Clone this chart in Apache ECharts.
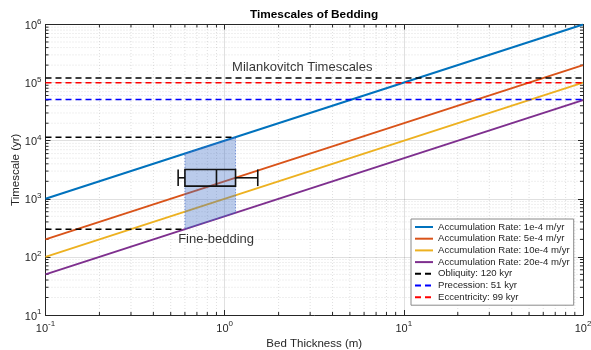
<!DOCTYPE html>
<html><head><meta charset="utf-8">
<script src="https://cdn.jsdelivr.net/npm/echarts@6/dist/echarts.min.js"></script>
<style>html,body{margin:0;padding:0;background:#fff}#c{width:591px;height:350px}</style>
</head><body><div id="c"></div>
<script>
// ---- data ----
const xRange = [0.1, 100];
const yRange = [10, 1e6];
const xTickExps = [-1, 0, 1, 2];
const yTickExps = [1, 2, 3, 4, 5, 6];
const rateNames = ['Accumulation Rate: 1e-4 m/yr', 'Accumulation Rate: 5e-4 m/yr', 'Accumulation Rate: 10e-4 m/yr', 'Accumulation Rate: 20e-4 m/yr'];
const lineX = [0.1, 100];
const rate1 = [1000, 1e6];
const rate5 = [200, 2e5];
const rate10 = [100, 1e5];
const rate20 = [50, 5e4];
const cycleNames = ['Obliquity: 120 kyr', 'Precession: 51 kyr', 'Eccentricity: 99 kyr'];
const cycleValues = [120000, 51000, 99000];
const fineX = [0.6, 1.15];
const fineTop = [6000, 11500];
const fineBottom = [300, 575];
const boxStats = [0.55, 0.6, 0.9, 1.15, 1.53]; // min, q1, median, q3, max
const boxY = 2300;
const milankLabel = ['Milankovitch Timescales', 1.1, 180000];
const fineLabel = ['Fine-bedding', 0.55, 200];

// ---- styling ----
const FONT = '"Liberation Sans", Arial, Helvetica, sans-serif';
const AXC = '#262626';
const lineColors = ['#0072BD', '#D95319', '#EDB120', '#7E2F8E'];
const cycleColors = ['#000000', '#0000FF', '#FF0000'];

function expLabel(exps) {
  return function (v) {
    const e = Math.round(Math.log10(v));
    if (exps.indexOf(e) < 0) return '';
    return '{b|10}{s|' + e + '}';
  };
}
const richLbl = {
  b: { fontSize: 11, fontFamily: FONT, color: AXC, verticalAlign: 'bottom', lineHeight: 14 },
  s: { fontSize: 8, fontFamily: FONT, color: AXC, verticalAlign: 'top', lineHeight: 8 }
};

const xMinor = [], yMinor = [];
for (let k = Math.log10(xRange[0]); k < Math.log10(xRange[1]) - 1e-9; k++) for (let m = 2; m <= 9; m++) xMinor.push(m * Math.pow(10, Math.round(k)));
for (let k = Math.log10(yRange[0]); k < Math.log10(yRange[1]) - 1e-9; k++) for (let m = 2; m <= 9; m++) yMinor.push(m * Math.pow(10, Math.round(k)));

function gridRender(isX) {
  return function (params, api) {
    const v = api.value(isX ? 0 : 1);
    let p1, p2;
    if (isX) { p1 = api.coord([v, yRange[0]]); p2 = api.coord([v, yRange[1]]); }
    else { p1 = api.coord([xRange[0], v]); p2 = api.coord([xRange[1], v]); }
    const dotted = { stroke: 'rgba(0,0,0,0.13)', lineWidth: 1, lineDash: [1, 2] };
    const tick = { stroke: AXC, lineWidth: 1 };
    const t = 3;
    const children = [{ type: 'line', shape: { x1: p1[0], y1: p1[1], x2: p2[0], y2: p2[1] }, style: dotted }];
    if (isX) {
      children.push({ type: 'line', shape: { x1: p1[0], y1: p1[1], x2: p1[0], y2: p1[1] - t }, style: tick });
      children.push({ type: 'line', shape: { x1: p2[0], y1: p2[1], x2: p2[0], y2: p2[1] + t }, style: tick });
    } else {
      children.push({ type: 'line', shape: { x1: p1[0], y1: p1[1], x2: p1[0] + t, y2: p1[1] }, style: tick });
      children.push({ type: 'line', shape: { x1: p2[0], y1: p2[1], x2: p2[0] - t, y2: p2[1] }, style: tick });
    }
    return { type: 'group', children: children };
  };
}

const series = [];
series.push({ type: 'custom', name: 'gx', silent: true, z: 0, renderItem: gridRender(true), data: xMinor.map(v => [v, yRange[0]]) });
series.push({ type: 'custom', name: 'gy', silent: true, z: 0, renderItem: gridRender(false), data: yMinor.map(v => [xRange[0], v]) });

const rateData = [rate1, rate5, rate10, rate20];
rateData.forEach((arr, i) => {
  series.push({
    type: 'line', name: rateNames[i], showSymbol: false, symbol: 'none', z: 3,
    data: lineX.map((x, j) => [x, arr[j]]),
    lineStyle: { color: lineColors[i], width: 2 }, itemStyle: { color: lineColors[i] }
  });
});
cycleValues.forEach((v, i) => {
  series.push({
    type: 'line', name: cycleNames[i], showSymbol: false, symbol: 'none', z: 3,
    data: [[xRange[0], v], [xRange[1], v]],
    lineStyle: { color: cycleColors[i], width: 1.5, type: [6, 4] }, itemStyle: { color: cycleColors[i] }
  });
});
// reference dashed lines for fine-bedding
series.push({ type: 'line', name: 'refTop', showSymbol: false, symbol: 'none', z: 3,
  data: [[xRange[0], fineTop[1]], [fineX[1], fineTop[1]]], lineStyle: { color: '#000', width: 1.5, type: [6, 4] } });
series.push({ type: 'line', name: 'refBot', showSymbol: false, symbol: 'none', z: 3,
  data: [[xRange[0], fineBottom[0]], [fineX[0], fineBottom[0]]], lineStyle: { color: '#000', width: 1.5, type: [6, 4] } });

// shaded fine-bedding region
series.push({
  type: 'custom', name: 'fill', silent: true, z: 4,
  data: [[fineX[0], fineTop[0], fineX[1], fineTop[1], fineBottom[1], fineBottom[0]]],
  encode: { x: [0, 2], y: [1, 3, 4, 5] },
  renderItem: function (params, api) {
    const pts = [
      api.coord([api.value(0), api.value(1)]),
      api.coord([api.value(2), api.value(3)]),
      api.coord([api.value(2), api.value(4)]),
      api.coord([api.value(0), api.value(5)])
    ];
    return { type: 'polygon', shape: { points: pts },
      style: { fill: 'rgba(65,112,200,0.36)', stroke: 'rgba(60,100,200,0.6)', lineWidth: 1, lineDash: [1.5, 1.5] } };
  }
});
// box plot
series.push({
  type: 'custom', name: 'box', silent: true, z: 5,
  data: [boxStats.concat([boxY])],
  encode: { x: [0, 1, 2, 3, 4], y: 5 },
  renderItem: function (params, api) {
    const yc = api.coord([1, api.value(5)])[1];
    const px = [0, 1, 2, 3, 4].map(i => api.coord([api.value(i), api.value(5)])[0]);
    const h = 8.3;
    const st = { stroke: '#111', lineWidth: 1.6, fill: null };
    return { type: 'group', children: [
      { type: 'rect', shape: { x: px[1], y: yc - h, width: px[3] - px[1], height: 2 * h }, style: st },
      { type: 'line', shape: { x1: px[2], y1: yc - h, x2: px[2], y2: yc + h }, style: st },
      { type: 'line', shape: { x1: px[0], y1: yc, x2: px[1], y2: yc }, style: st },
      { type: 'line', shape: { x1: px[3], y1: yc, x2: px[4], y2: yc }, style: st },
      { type: 'line', shape: { x1: px[0], y1: yc - h, x2: px[0], y2: yc + h }, style: st },
      { type: 'line', shape: { x1: px[4], y1: yc - h, x2: px[4], y2: yc + h }, style: st }
    ] };
  }
});
// text annotations
[milankLabel, fineLabel].forEach((lab, i) => {
  series.push({
    type: 'scatter', name: 'lab' + i, symbolSize: 0, silent: true, z: 6,
    data: [[lab[1], lab[2]]],
    label: { show: true, position: 'right', distance: 0, formatter: lab[0], fontSize: 13, fontFamily: FONT, color: '#000' }
  });
});

const axisCommon = {
  type: 'log', logBase: 10,
  axisLine: { show: true, onZero: false, lineStyle: { color: AXC, width: 1 } },
  axisTick: { show: true, inside: true, length: 5, lineStyle: { color: AXC } },
  minorTick: { show: false },
  splitLine: { show: false }
};

const option = {
  animation: false,
  backgroundColor: '#fff',
  title: {
    text: 'Timescales of Bedding', left: 250, top: 9, padding: 0,
    textStyle: { fontSize: 11.8, fontWeight: 'bold', fontFamily: FONT, color: '#000' }
  },
  grid: { left: 45.5, right: 8, top: 24.5, bottom: 35, containLabel: false, outerBoundsMode: 'none' },
  legend: {
    orient: 'vertical', left: 411, top: 219,
    itemWidth: 18, itemHeight: 10, itemGap: 1.7,
    padding: [3, 4, 3, 3],
    backgroundColor: '#fff', borderColor: '#8a8a8a', borderWidth: 1, borderRadius: 0,
    itemStyle: { opacity: 0 },
    textStyle: { fontSize: 9.6, fontFamily: FONT, color: AXC },
    data: rateNames.concat(cycleNames)
  },
  xAxis: [
    Object.assign({}, axisCommon, {
      min: xRange[0], max: xRange[1], position: 'bottom',
      splitLine: { show: true, lineStyle: { color: 'rgba(0,0,0,0.12)', width: 1 } },
      axisLabel: { formatter: expLabel(xTickExps), rich: richLbl, margin: 5 },
      name: 'Bed Thickness (m)', nameLocation: 'middle', nameGap: 23, nameMoveOverlap: false,
      nameTextStyle: { fontSize: 11.5, fontFamily: FONT, color: AXC }
    }),
    Object.assign({}, axisCommon, { min: xRange[0], max: xRange[1], position: 'top', axisLabel: { show: false } })
  ],
  yAxis: [
    Object.assign({}, axisCommon, {
      min: yRange[0], max: yRange[1], position: 'left',
      splitLine: { show: true, lineStyle: { color: 'rgba(0,0,0,0.12)', width: 1 } },
      axisLabel: { formatter: expLabel(yTickExps), rich: richLbl, margin: 4 },
      name: 'Timescale (yr)', nameLocation: 'middle', nameGap: 24, nameMoveOverlap: false,
      nameTextStyle: { fontSize: 11.5, fontFamily: FONT, color: AXC }
    }),
    Object.assign({}, axisCommon, { min: yRange[0], max: yRange[1], position: 'right', axisLabel: { show: false } })
  ],
  series: series
};
const chart = echarts.init(document.getElementById('c'), null, { renderer: 'canvas' });
chart.setOption(option);
</script></body></html>
